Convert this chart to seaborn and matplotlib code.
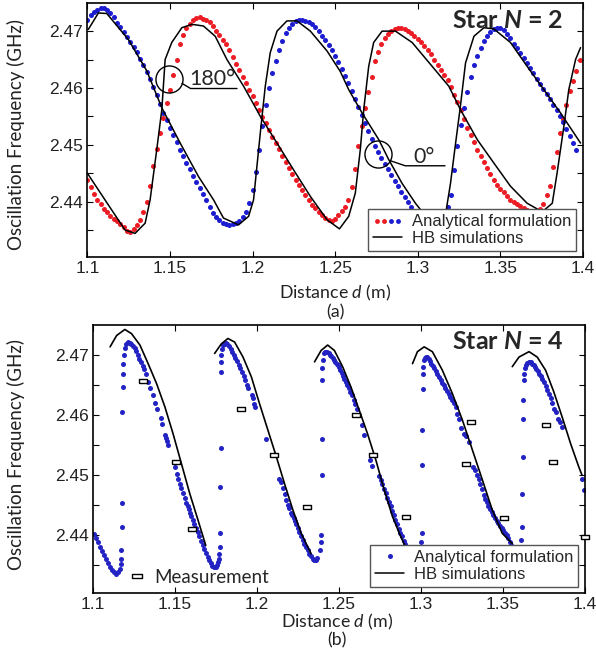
import numpy as np
import pandas as pd
import matplotlib
matplotlib.use("Agg")
import matplotlib.pyplot as plt
import seaborn as sns
from matplotlib.lines import Line2D
from matplotlib.legend_handler import HandlerTuple

# ---------------- data: panel (a), Star N = 2 ----------------
TOP_X0, TOP_DX = 1.100, 0.002   # sampling grid of the analytical curves
TOP_BLUE = [
    2.4720, 2.4728, 2.4734, 2.4738, 2.4741, 2.4741, 2.4738, 2.4732, 2.4724, 2.4715,
    2.4707, 2.4699, 2.4690, 2.4681, 2.4672, 2.4663, 2.4651, 2.4640, 2.4628, 2.4616,
    2.4602, 2.4587, 2.4572, 2.4556, 2.4543, 2.4530, 2.4517, 2.4504, 2.4491, 2.4480,
    2.4468, 2.4457, 2.4445, 2.4435, 2.4424, 2.4413, 2.4402, 2.4391, 2.4380, 2.4373,
    2.4367, 2.4363, 2.4360, 2.4359, 2.4360, 2.4362, 2.4366, 2.4372, 2.4382, 2.4398,
    2.4420, 2.4452, 2.4490, 2.4533, 2.4570, 2.4600, 2.4626, 2.4648, 2.4666, 2.4682,
    2.4697, 2.4706, 2.4713, 2.4718, 2.4719, 2.4719, 2.4718, 2.4716, 2.4713, 2.4708,
    2.4700, 2.4692, 2.4684, 2.4676, 2.4667, 2.4656, 2.4645, 2.4633, 2.4621, 2.4608,
    2.4594, 2.4580, 2.4566, 2.4552, 2.4539, 2.4525, 2.4511, 2.4498, 2.4487, 2.4477,
    2.4467, 2.4457, 2.4447, 2.4437, 2.4427, 2.4417, 2.4408, 2.4399, 2.4390, 2.4382,
    2.4376, 2.4370, 2.4365, 2.4362, 2.4360, 2.4360, 2.4362, 2.4367, 2.4376, 2.4390,
    2.4412, 2.4455, 2.4497, 2.4535, 2.4565, 2.4592, 2.4620, 2.4640, 2.4656, 2.4670,
    2.4683, 2.4692, 2.4699, 2.4704, 2.4706, 2.4705, 2.4702, 2.4695, 2.4688, 2.4678,
    2.4670, 2.4662, 2.4653, 2.4644, 2.4635, 2.4626, 2.4616, 2.4607, 2.4598, 2.4589,
    2.4580, 2.4570, 2.4561, 2.4551, 2.4540, 2.4528, 2.4516, 2.4503, 2.4490,
]
TOP_RED = [
    2.4438, 2.4425, 2.4413, 2.4403, 2.4395, 2.4387, 2.4381, 2.4375, 2.4370, 2.4366,
    2.4361, 2.4355, 2.4349, 2.4347, 2.4352, 2.4359, 2.4368, 2.4381, 2.4400, 2.4427,
    2.4462, 2.4493, 2.4520, 2.4547, 2.4573, 2.4596, 2.4622, 2.4650, 2.4677, 2.4694,
    2.4705, 2.4713, 2.4719, 2.4723, 2.4724, 2.4722, 2.4719, 2.4716, 2.4709, 2.4701,
    2.4693, 2.4685, 2.4677, 2.4667, 2.4655, 2.4643, 2.4632, 2.4620, 2.4608, 2.4597,
    2.4585, 2.4573, 2.4561, 2.4549, 2.4538, 2.4526, 2.4514, 2.4503, 2.4492, 2.4481,
    2.4470, 2.4459, 2.4448, 2.4438, 2.4429, 2.4420, 2.4411, 2.4402, 2.4394, 2.4388,
    2.4382, 2.4376, 2.4371, 2.4367, 2.4365, 2.4369, 2.4376, 2.4383, 2.4391, 2.4403,
    2.4425, 2.4458, 2.4497, 2.4533, 2.4565, 2.4593, 2.4620, 2.4647, 2.4664, 2.4678,
    2.4688, 2.4695, 2.4701, 2.4704, 2.4706, 2.4706, 2.4703, 2.4700, 2.4696, 2.4692,
    2.4687, 2.4681, 2.4674, 2.4667, 2.4659, 2.4650, 2.4641, 2.4632, 2.4623, 2.4614,
    2.4601, 2.4588, 2.4575, 2.4561, 2.4545, 2.4530, 2.4517, 2.4504, 2.4491, 2.4480,
    2.4470, 2.4459, 2.4449, 2.4438, 2.4430, 2.4423, 2.4417, 2.4410, 2.4403, 2.4399,
    2.4396, 2.4392, 2.4389, 2.4385, 2.4383, 2.4382, 2.4382, 2.4387, 2.4396, 2.4412,
    2.4428, 2.4460, 2.4488, 2.4520, 2.4545, 2.4570, 2.4594, 2.4612, 2.4630, 2.4650,
]
HB_TOP_A = [(1.1006, 2.4703), (1.1067, 2.4732), (1.1118, 2.4731), (1.1249, 2.4685),
            (1.1360, 2.4630), (1.1451, 2.4565), (1.1562, 2.4503), (1.1673, 2.4444),
            (1.1764, 2.4403), (1.1824, 2.4371), (1.1915, 2.4359), (1.1976, 2.4374),
            (1.2006, 2.4403), (1.2047, 2.4521), (1.2077, 2.4603), (1.2107, 2.4662),
            (1.2148, 2.4700), (1.2208, 2.4718), (1.2269, 2.4718), (1.2350, 2.4700),
            (1.2451, 2.4665), (1.2531, 2.4629), (1.2582, 2.4597), (1.2663, 2.4556),
            (1.2764, 2.4509), (1.2824, 2.4474), (1.2905, 2.4432), (1.2986, 2.4397),
            (1.3060, 2.4370), (1.3120, 2.4362), (1.3165, 2.4372), (1.3198, 2.4432),
            (1.3229, 2.4503), (1.3258, 2.4568), (1.3289, 2.4644), (1.3340, 2.4691),
            (1.3400, 2.4706), (1.3460, 2.4704), (1.3561, 2.4680), (1.3662, 2.4638),
            (1.3763, 2.4597), (1.3864, 2.4556), (1.3985, 2.4503)]
HB_TOP_B = [(1.1000, 2.4450), (1.1107, 2.4403), (1.1228, 2.4350), (1.1289, 2.4344),
            (1.1350, 2.4362), (1.1380, 2.4403), (1.1420, 2.4491), (1.1451, 2.4562),
            (1.1471, 2.4650), (1.1511, 2.4680), (1.1572, 2.4706), (1.1633, 2.4712),
            (1.1703, 2.4709), (1.1774, 2.4691), (1.1845, 2.4650), (1.1946, 2.4603),
            (1.2047, 2.4550), (1.2148, 2.4503), (1.2248, 2.4456), (1.2350, 2.4409),
            (1.2451, 2.4368), (1.2526, 2.4352), (1.2582, 2.4374), (1.2622, 2.4415),
            (1.2652, 2.4491), (1.2673, 2.4562), (1.2703, 2.4638), (1.2733, 2.4680),
            (1.2784, 2.4700), (1.2865, 2.4700), (1.2966, 2.4680), (1.3087, 2.4638),
            (1.3188, 2.4603), (1.3258, 2.4562), (1.3360, 2.4509), (1.3460, 2.4468),
            (1.3561, 2.4427), (1.3662, 2.4397), (1.3753, 2.4382), (1.3814, 2.4397),
            (1.3843, 2.4450), (1.3884, 2.4532), (1.3914, 2.4597), (1.3955, 2.4650),
            (1.3985, 2.4671)]

# ---------------- data: panel (b), Star N = 4 ----------------
BOT_SEG0 = [(1.1010, 2.4402), (1.1022, 2.4396), (1.1034, 2.4389), (1.1046, 2.4381),
            (1.1058, 2.4374), (1.1070, 2.4367), (1.1082, 2.4360), (1.1094, 2.4353),
            (1.1106, 2.4347), (1.1118, 2.4342), (1.1130, 2.4338), (1.1142, 2.4336),
            (1.1154, 2.4338), (1.1164, 2.4344)]
BOT_RISE1 = [(1.1170, 2.4352), (1.1172, 2.4361), (1.1174, 2.4375), (1.1176, 2.4414),
             (1.1178, 2.4453), (1.1180, 2.4606), (1.1182, 2.4647), (1.1184, 2.4669),
             (1.1186, 2.4686), (1.1190, 2.4700)]
BOT_SEG1 = [(1.1195, 2.4712), (1.1205, 2.4719), (1.1215, 2.4722), (1.1225, 2.4721),
            (1.1235, 2.4719), (1.1245, 2.4716), (1.1255, 2.4712), (1.1265, 2.4707),
            (1.1275, 2.4700), (1.1285, 2.4694), (1.1295, 2.4688), (1.1305, 2.4682),
            (1.1315, 2.4677), (1.1325, 2.4669), (1.1340, 2.4655), (1.1350, 2.4645),
            (1.1365, 2.4633), (1.1380, 2.4621), (1.1395, 2.4611), (1.1415, 2.4595),
            (1.1425, 2.4585), (1.1440, 2.4567), (1.1447, 2.4562), (1.1455, 2.4557),
            (1.1462, 2.4551), (1.1500, 2.4514), (1.1512, 2.4502), (1.1522, 2.4494),
            (1.1532, 2.4485), (1.1540, 2.4478), (1.1548, 2.4471), (1.1560, 2.4462),
            (1.1570, 2.4454), (1.1578, 2.4448), (1.1586, 2.4443), (1.1594, 2.4437),
            (1.1602, 2.4432), (1.1610, 2.4426), (1.1620, 2.4419), (1.1630, 2.4412),
            (1.1640, 2.4405), (1.1650, 2.4398), (1.1660, 2.4391), (1.1670, 2.4384),
            (1.1680, 2.4377), (1.1690, 2.4371), (1.1700, 2.4364), (1.1710, 2.4358),
            (1.1720, 2.4353), (1.1730, 2.4349), (1.1740, 2.4347), (1.1750, 2.4347),
            (1.1758, 2.4351)]
BOT_RISE2 = [(1.1765, 2.4356), (1.1770, 2.4361), (1.1772, 2.4369), (1.1774, 2.4381),
             (1.1776, 2.4403), (1.1778, 2.4481), (1.1779, 2.4546), (1.1780, 2.4672),
             (1.1782, 2.4689), (1.1785, 2.4700), (1.1790, 2.4711), (1.1796, 2.4717)]
BOT_SEG2 = [(1.1800, 2.4719), (1.1810, 2.4720), (1.1820, 2.4718), (1.1830, 2.4715),
            (1.1840, 2.4710), (1.1850, 2.4705), (1.1860, 2.4700), (1.1870, 2.4695),
            (1.1880, 2.4690), (1.1890, 2.4684), (1.1900, 2.4678), (1.1910, 2.4672),
            (1.1920, 2.4665), (1.1930, 2.4658), (1.1940, 2.4651), (1.1948, 2.4646),
            (1.1968, 2.4634), (1.1975, 2.4629), (1.1985, 2.4619), (1.1992, 2.4613),
            (1.2058, 2.4561), (1.2136, 2.4494), (1.2145, 2.4488), (1.2158, 2.4479),
            (1.2170, 2.4468), (1.2180, 2.4458), (1.2190, 2.4451), (1.2198, 2.4445),
            (1.2208, 2.4437), (1.2216, 2.4433), (1.2224, 2.4428), (1.2232, 2.4424),
            (1.2240, 2.4419), (1.2250, 2.4412), (1.2260, 2.4405), (1.2270, 2.4398),
            (1.2280, 2.4392), (1.2290, 2.4386), (1.2300, 2.4380), (1.2310, 2.4375),
            (1.2320, 2.4369), (1.2330, 2.4365), (1.2340, 2.4361), (1.2350, 2.4358),
            (1.2360, 2.4358), (1.2370, 2.4362)]
BOT_RISE3 = [(1.2385, 2.4375), (1.2390, 2.4389), (1.2392, 2.4400), (1.2395, 2.4500),
             (1.2396, 2.4561), (1.2397, 2.4658), (1.2399, 2.4678), (1.2402, 2.4692)]
BOT_SEG3 = [(1.2408, 2.4703), (1.2415, 2.4705), (1.2422, 2.4706), (1.2430, 2.4706),
            (1.2438, 2.4704), (1.2446, 2.4701), (1.2454, 2.4698), (1.2462, 2.4695),
            (1.2470, 2.4692), (1.2478, 2.4689), (1.2486, 2.4686), (1.2494, 2.4684),
            (1.2502, 2.4680), (1.2510, 2.4676), (1.2518, 2.4671), (1.2526, 2.4666),
            (1.2534, 2.4661), (1.2542, 2.4656), (1.2550, 2.4651), (1.2560, 2.4645),
            (1.2570, 2.4639), (1.2580, 2.4633), (1.2590, 2.4626), (1.2600, 2.4618),
            (1.2612, 2.4610), (1.2625, 2.4600), (1.2640, 2.4583), (1.2655, 2.4567),
            (1.2690, 2.4526), (1.2700, 2.4516), (1.2745, 2.4498), (1.2755, 2.4492),
            (1.2765, 2.4485), (1.2775, 2.4477), (1.2785, 2.4470), (1.2795, 2.4462),
            (1.2805, 2.4455), (1.2815, 2.4448), (1.2825, 2.4440), (1.2835, 2.4433),
            (1.2845, 2.4425), (1.2855, 2.4418), (1.2865, 2.4410), (1.2875, 2.4404),
            (1.2885, 2.4398), (1.2895, 2.4391), (1.2905, 2.4385), (1.2915, 2.4379),
            (1.2925, 2.4373), (1.2935, 2.4367), (1.2945, 2.4362), (1.2955, 2.4358),
            (1.2965, 2.4356), (1.2975, 2.4357), (1.2985, 2.4362)]
BOT_RISE4 = [(1.3000, 2.4375), (1.3003, 2.4389), (1.3006, 2.4403), (1.3008, 2.4517),
             (1.3009, 2.4575), (1.3010, 2.4644), (1.3012, 2.4669), (1.3015, 2.4681),
             (1.3020, 2.4692)]
BOT_SEG4 = [(1.3025, 2.4695), (1.3032, 2.4697), (1.3040, 2.4697), (1.3048, 2.4694),
            (1.3056, 2.4690), (1.3064, 2.4686), (1.3072, 2.4682), (1.3080, 2.4678),
            (1.3090, 2.4673), (1.3100, 2.4668), (1.3110, 2.4664), (1.3120, 2.4659),
            (1.3130, 2.4654), (1.3140, 2.4650), (1.3150, 2.4645), (1.3160, 2.4640),
            (1.3170, 2.4636), (1.3180, 2.4631), (1.3190, 2.4626), (1.3200, 2.4620),
            (1.3212, 2.4614), (1.3222, 2.4602), (1.3232, 2.4594), (1.3245, 2.4578),
            (1.3265, 2.4569), (1.3275, 2.4566), (1.3292, 2.4555), (1.3318, 2.4513),
            (1.3328, 2.4508), (1.3340, 2.4500), (1.3352, 2.4493), (1.3362, 2.4485),
            (1.3372, 2.4477), (1.3382, 2.4467), (1.3392, 2.4461), (1.3402, 2.4455),
            (1.3412, 2.4449), (1.3422, 2.4444), (1.3432, 2.4438), (1.3442, 2.4433),
            (1.3452, 2.4429), (1.3462, 2.4424), (1.3472, 2.4420), (1.3482, 2.4416),
            (1.3492, 2.4412), (1.3502, 2.4408), (1.3512, 2.4404), (1.3522, 2.4400),
            (1.3532, 2.4395), (1.3542, 2.4389), (1.3552, 2.4384), (1.3562, 2.4378),
            (1.3572, 2.4372), (1.3582, 2.4366), (1.3592, 2.4362), (1.3602, 2.4361)]
BOT_RISE5 = [(1.3610, 2.4372), (1.3612, 2.4392), (1.3615, 2.4414), (1.3618, 2.4469),
             (1.3620, 2.4531), (1.3622, 2.4594), (1.3624, 2.4625), (1.3626, 2.4658),
             (1.3630, 2.4669), (1.3635, 2.4678)]
BOT_SEG5 = [(1.3640, 2.4683), (1.3648, 2.4687), (1.3656, 2.4689), (1.3664, 2.4689),
            (1.3672, 2.4688), (1.3680, 2.4686), (1.3688, 2.4684), (1.3696, 2.4681),
            (1.3704, 2.4677), (1.3712, 2.4673), (1.3720, 2.4669), (1.3730, 2.4665),
            (1.3740, 2.4660), (1.3750, 2.4655), (1.3760, 2.4649), (1.3770, 2.4642),
            (1.3780, 2.4635), (1.3790, 2.4628), (1.3800, 2.4620), (1.3812, 2.4610),
            (1.3822, 2.4605), (1.3838, 2.4594), (1.3848, 2.4588), (1.3860, 2.4581),
            (1.3982, 2.4493), (1.3994, 2.4476)]

HB_BOT = [
    [(1.1106, 2.4714), (1.1146, 2.4733), (1.1196, 2.4743), (1.1237, 2.4736), (1.1288, 2.4717),
     (1.1338, 2.4686), (1.1389, 2.4653), (1.1440, 2.4614), (1.1490, 2.4569), (1.1541, 2.4519),
     (1.1592, 2.4469), (1.1642, 2.4425), (1.1689, 2.4383)],
    [(1.1743, 2.4703), (1.1784, 2.4719), (1.1824, 2.4728), (1.1865, 2.4722), (1.1916, 2.4697),
     (1.1967, 2.4664), (1.2017, 2.4619), (1.2068, 2.4575), (1.2119, 2.4531), (1.2169, 2.4486),
     (1.2220, 2.4442), (1.2271, 2.4403), (1.2331, 2.4369)],
    [(1.2352, 2.4689), (1.2392, 2.4708), (1.2432, 2.4717), (1.2473, 2.4708), (1.2523, 2.4681),
     (1.2574, 2.4647), (1.2625, 2.4608), (1.2675, 2.4569), (1.2726, 2.4525), (1.2777, 2.4475),
     (1.2827, 2.4431), (1.2878, 2.4397), (1.2925, 2.4370)],
    [(1.2949, 2.4686), (1.2979, 2.4706), (1.3020, 2.4714), (1.3070, 2.4706), (1.3131, 2.4675),
     (1.3192, 2.4636), (1.3253, 2.4592), (1.3314, 2.4542), (1.3375, 2.4492), (1.3435, 2.4442),
     (1.3496, 2.4403), (1.3557, 2.4386)],
    [(1.3557, 2.4681), (1.3598, 2.4697), (1.3659, 2.4706), (1.3709, 2.4697), (1.3760, 2.4675),
     (1.3810, 2.4639), (1.3861, 2.4597), (1.3912, 2.4553), (1.3962, 2.4514), (1.3982, 2.4500)],
]
MEAS_X = [1.1304, 1.1506, 1.1607, 1.1906, 1.2104, 1.2305, 1.2605, 1.2706, 1.2909,
          1.3274, 1.3304, 1.3507, 1.3760, 1.3806, 1.4003]
MEAS_Y = [2.4657, 2.4522, 2.4411, 2.4611, 2.4533, 2.4447, 2.4600, 2.4533, 2.4431,
          2.4518, 2.4589, 2.4428, 2.4583, 2.4522, 2.4397]

XTICKS = [1.1, 1.15, 1.2, 1.25, 1.3, 1.35, 1.4]
XTICKLABELS = ["1.1", "1.15", "1.2", "1.25", "1.3", "1.35", "1.4"]
YTICKS = [2.435, 2.44, 2.445, 2.45, 2.455, 2.46, 2.465, 2.47]
YTICKLABELS = ["", "2.44", "", "2.45", "", "2.46", "", "2.47"]

# annotation anchors (panel a)
ANN_180 = dict(center=(1.1497, 2.4615), lead=[(1.1573, 2.4608), (1.1625, 2.4599), (1.1906, 2.4599)],
               text=(1.1617, 2.4605), label="180°")
ANN_0 = dict(center=(1.2757, 2.4483), lead=[(1.2833, 2.4472), (1.2924, 2.4463), (1.3165, 2.4463)],
             text=(1.2971, 2.4468), label="0°")

# ---------------- style ----------------
sns.set_theme(style="white")
plt.rcParams["font.family"] = ["Liberation Sans", "DejaVu Sans"]
plt.rcParams["mathtext.fontset"] = "custom"
plt.rcParams["mathtext.rm"] = "Lato"
plt.rcParams["mathtext.it"] = "Lato:italic"
plt.rcParams["mathtext.bf"] = "Lato:bold"
plt.rcParams["mathtext.bfit"] = "Lato:bold:italic"

RED = "#ec1c24"
BLUE = "#1c1cd0"
BLUE2 = "#2323c4"
LABEL_FONT = "Lato"

fig = plt.figure(figsize=(5.96, 6.49), dpi=100)
ax1 = fig.add_axes([0.1465, 0.6045, 0.8317, 0.3913])
ax2 = fig.add_axes([0.1555, 0.0858, 0.8260, 0.4130])

# ---------------- panel (a) ----------------
top_blue_x = TOP_X0 + TOP_DX * np.arange(len(TOP_BLUE))
top_red_x = TOP_X0 + TOP_DX * np.arange(len(TOP_RED))
sns.scatterplot(x=top_red_x, y=TOP_RED, color=RED, s=13, linewidth=0, ax=ax1, zorder=2)
sns.scatterplot(x=top_blue_x, y=TOP_BLUE, color=BLUE, s=13, linewidth=0, ax=ax1, zorder=2)
for seg in (HB_TOP_A, HB_TOP_B):
    d = pd.DataFrame(seg, columns=["x", "y"])
    sns.lineplot(data=d, x="x", y="y", color="black", lw=1.1, sort=False,
                 estimator=None, ax=ax1, zorder=3)

for ann in (ANN_180, ANN_0):
    cx, cy = ann["center"]
    ax1.plot([cx], [cy], marker="o", ms=19.5, mfc="none", mec="black", mew=1.0, zorder=4)
    lx, ly = zip(*ann["lead"])
    ax1.plot(lx, ly, color="black", lw=1.0, zorder=4)
    ax1.text(ann["text"][0], ann["text"][1], ann["label"], fontfamily=LABEL_FONT,
             fontsize=15.5, ha="left", va="baseline", zorder=5)

ax1.text(0.96, 0.900, "Star $\\mathbfit{N}$ = 2", transform=ax1.transAxes, ha="right",
         va="baseline", fontfamily=LABEL_FONT, fontweight="bold", fontsize=18)

h_r = Line2D([], [], ls="none", marker="o", ms=3.5, color=RED, mew=0)
h_b = Line2D([], [], ls="none", marker="o", ms=3.5, color=BLUE, mew=0)
h_k = Line2D([], [], color="black", lw=1.1)
leg1 = ax1.legend(handles=[(h_r, h_r, h_b, h_b), h_k],
                  labels=["Analytical formulation", "HB simulations"],
                  handler_map={tuple: HandlerTuple(ndivide=None, pad=0.0)},
                  loc="lower right", bbox_to_anchor=(0.986, 0.022), borderaxespad=0,
                  numpoints=1, fontsize=12, frameon=True, fancybox=False,
                  edgecolor="#555555", framealpha=1, handlelength=1.7,
                  handletextpad=0.6, labelspacing=0.1, borderpad=0.3)
leg1.get_frame().set_linewidth(1.0)

# ---------------- panel (b) ----------------
bot_parts = [BOT_SEG0, BOT_RISE1, BOT_SEG1, BOT_RISE2, BOT_SEG2, BOT_RISE3, BOT_SEG3,
             BOT_RISE4, BOT_SEG4, BOT_RISE5, BOT_SEG5]
bot = pd.DataFrame([p for part in bot_parts for p in part], columns=["x", "y"])
sns.scatterplot(data=bot, x="x", y="y", color=BLUE2, s=13, linewidth=0, ax=ax2, zorder=2)
hb = pd.DataFrame([(i, x, y) for i, seg in enumerate(HB_BOT) for (x, y) in seg],
                  columns=["seg", "x", "y"])
sns.lineplot(data=hb, x="x", y="y", units="seg", estimator=None, color="black", lw=1.2,
             sort=False, ax=ax2, zorder=3, legend=False)
rect = [(-1, -0.45), (1, -0.45), (1, 0.45), (-1, 0.45), (-1, -0.45)]
ax2.scatter(MEAS_X, MEAS_Y, marker=rect, s=40, facecolor="white", edgecolor="black",
            linewidth=1.0, zorder=4, clip_on=False)

ax2.text(0.956, 0.910, "Star $\\mathbfit{N}$ = 4", transform=ax2.transAxes, ha="right",
         va="baseline", fontfamily=LABEL_FONT, fontweight="bold", fontsize=18)

h_b2 = Line2D([], [], ls="none", marker="o", ms=3.6, color=BLUE2, mew=0)
leg2 = ax2.legend(handles=[h_b2, h_k], labels=["Analytical formulation", "HB simulations"],
                  loc="lower right", bbox_to_anchor=(0.986, 0.025), borderaxespad=0,
                  numpoints=1, fontsize=12, frameon=True, fancybox=False,
                  edgecolor="#555555", framealpha=1, handlelength=1.7,
                  handletextpad=0.6, labelspacing=0.1, borderpad=0.3)
leg2.get_frame().set_linewidth(1.0)
ax2.add_artist(leg2)
h_m = Line2D([], [], ls="none", marker=rect, ms=6.5, mfc="white", mec="black", mew=1.0)
leg3 = ax2.legend(handles=[h_m], labels=["Measurement"], loc="lower left",
                  bbox_to_anchor=(0.06, 0.0), borderaxespad=0, frameon=False,
                  numpoints=1, handlelength=0.8, handletextpad=0.5,
                  prop={"family": LABEL_FONT, "size": 13.5})

# ---------------- axes cosmetics ----------------
for ax in (ax1, ax2):
    ax.set_xlim(1.1, 1.4)
    ax.set_ylim(2.4303, 2.475)
    ax.set_xticks(XTICKS)
    ax.set_xticklabels(XTICKLABELS)
    ax.set_yticks(YTICKS)
    ax.set_yticklabels(YTICKLABELS)
    ax.set_xlabel("")
    ax.set_ylabel("")
    ax.tick_params(direction="in", bottom=True, left=True, top=True, right=True,
                   length=4, width=0.8, colors="black", labelcolor="#222222",
                   labelsize=12.5, pad=3)
    for sp in ax.spines.values():
        sp.set_color("black")
        sp.set_linewidth(1.2)
    ax.grid(False)

fig.text(0.026, 0.793, "Oscillation Frequency (GHz)", rotation=90, ha="center",
         va="center", fontfamily=LABEL_FONT, fontsize=13.5, color="#222222")
fig.text(0.026, 0.299, "Oscillation Frequency (GHz)", rotation=90, ha="center",
         va="center", fontfamily=LABEL_FONT, fontsize=13.5, color="#222222")
fig.text(0.562, 0.549, "Distance $d$ (m)", ha="center", va="center",
         fontfamily=LABEL_FONT, fontsize=12.8, color="#222222")
fig.text(0.562, 0.519, "(a)", ha="center", va="center",
         fontfamily=LABEL_FONT, fontsize=12.8, color="#222222")
fig.text(0.566, 0.0420, "Distance $d$ (m)", ha="center", va="center",
         fontfamily=LABEL_FONT, fontsize=12.8, color="#222222")
fig.text(0.566, 0.0130, "(b)", ha="center", va="center",
         fontfamily=LABEL_FONT, fontsize=12.8, color="#222222")

fig.savefig("out.png", dpi=100)
